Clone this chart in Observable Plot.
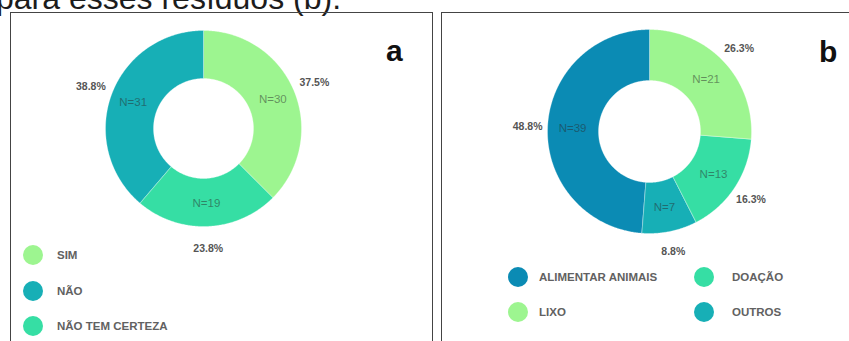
<!DOCTYPE html>
<html lang="pt">
<head>
<meta charset="utf-8">
<script src="https://cdn.jsdelivr.net/npm/d3@7"></script>
<script src="https://cdn.jsdelivr.net/npm/@observablehq/plot@0.6"></script>
<style>
  html, body { margin: 0; padding: 0; background: #fff; }
  body { width: 849px; height: 341px; position: relative; overflow: hidden;
         font-family: "Liberation Sans", Arial, sans-serif; }
  .texto { position: absolute; left: -4px; top: -18px; font-size: 32px; line-height: 32px;
           color: #1c1c1c; white-space: nowrap; }
  .painel { position: absolute; top: 12px; height: 360px; border: 1px solid #444; box-sizing: border-box; }
  .letra { position: absolute; font-size: 30px; line-height: 30px; font-weight: bold; color: #111; }
  .grafico { position: absolute; }
  .legenda { position: absolute; display: grid; align-items: center; row-gap: 15px;
             font-size: 11.5px; font-weight: bold; color: #616161; }
  .bola { width: 20px; height: 20px; border-radius: 50%; }
  .rot { white-space: nowrap; }
</style>
</head>
<body>
<div class="texto">para esses resíduos (b).</div>
<div class="painel" style="left:10px; width:423px;"></div>
<div class="painel" style="left:441px; width:440px;"></div>
<div class="letra" style="left:386px; top:36px;">a</div>
<div class="letra" style="left:819px; top:37px;">b</div>
<div id="graficoA" class="grafico" style="left:53px; top:-22px;"></div>
<div id="graficoB" class="grafico" style="left:499px; top:-19px;"></div>
<div id="legendaA" class="legenda" style="left:23px; top:245px; grid-template-columns: 20px auto; column-gap: 14px; row-gap: 15.5px;"></div>
<div id="legendaB" class="legenda" style="left:508px; top:267px; grid-template-columns: 20px 166px 20px auto; row-gap: 15px;"></div>
<script>
// (a) answers, in clockwise order starting at 12 o'clock
const respostasA = ["SIM", "NÃO TEM CERTEZA", "NÃO"];
const contagensA = [30, 19, 31];
const coresA = ["#9df590", "#36dea4", "#17afb6"];
const legendaA = ["SIM", "NÃO", "NÃO TEM CERTEZA"];

// (b) destinations, in clockwise order starting at 12 o'clock
const destinosB = ["LIXO", "DOAÇÃO", "OUTROS", "ALIMENTAR ANIMAIS"];
const contagensB = [21, 13, 7, 39];
const coresB = ["#9df590", "#36dea4", "#17afb6", "#0b8bb4"];
const legendaB = ["ALIMENTAR ANIMAIS", "DOAÇÃO", "LIXO", "OUTROS"];

const fonte = "'Liberation Sans', Arial, sans-serif";

// Ring polygons and label anchors built from the counts via d3.pie,
// in a centred coordinate system (1 unit = 1 px, y pointing up).
function donut(cats, counts, colors, R, r, nR, pR) {
  const total = d3.sum(counts);
  const arcs = d3.pie().sort(null).value(d => d)(counts);
  const ring = arcs.flatMap((a, i) => {
    const steps = Math.max(2, Math.ceil((a.endAngle - a.startAngle) / 0.01));
    const ts = d3.range(steps + 1).map(k => a.startAngle + (a.endAngle - a.startAngle) * k / steps);
    return [
      ...ts.map(t => ({cat: cats[i], x: R * Math.sin(t), y: R * Math.cos(t)})),
      ...ts.slice().reverse().map(t => ({cat: cats[i], x: r * Math.sin(t), y: r * Math.cos(t)}))
    ];
  });
  const lbl = arcs.map((a, i) => {
    const m = (a.startAngle + a.endAngle) / 2;
    return {
      n: `N=${counts[i]}`,
      pct: `${(counts[i] / total * 100).toFixed(1)}%`,
      xn: nR * Math.sin(m), yn: nR * Math.cos(m),
      xp: pR * Math.sin(m), yp: pR * Math.cos(m)
    };
  });
  return Plot.plot({
    width: 300, height: 300, margin: 0,
    x: {domain: [-150, 150], axis: null},
    y: {domain: [-150, 150], axis: null},
    color: {domain: cats, range: colors},
    style: {background: "transparent", overflow: "visible", fontFamily: fonte},
    marks: [
      Plot.line(ring, {x: "x", y: "y", z: "cat", fill: "cat", stroke: "white",
                       strokeWidth: 0.5, strokeOpacity: 0.6, curve: "linear-closed"}),
      Plot.text(lbl, {x: "xn", y: "yn", text: "n", fontSize: 11.5,
                      fill: "#2a2a2a", fillOpacity: 0.5}),
      Plot.text(lbl, {x: "xp", y: "yp", text: "pct", fontSize: 10.5,
                      fontWeight: "bold", fill: "#555"})
    ]
  });
}

document.getElementById("graficoA").append(donut(respostasA, contagensA, coresA, 98, 50, 75, 120));
document.getElementById("graficoB").append(donut(destinosB, contagensB, coresB, 102, 51, 77, 122));

function legenda(id, itens, cats, colors, gaps) {
  const box = document.getElementById(id);
  itens.forEach((nome, i) => {
    const bola = document.createElement("div");
    bola.className = "bola";
    bola.style.background = colors[cats.indexOf(nome)];
    const rot = document.createElement("div");
    rot.className = "rot";
    rot.textContent = nome;
    if (gaps) rot.style.paddingLeft = gaps[i % gaps.length] + "px";
    box.append(bola, rot);
  });
}
legenda("legendaA", legendaA, respostasA, coresA, null);
legenda("legendaB", legendaB, destinosB, coresB, [11, 18]);
</script>
</body>
</html>
